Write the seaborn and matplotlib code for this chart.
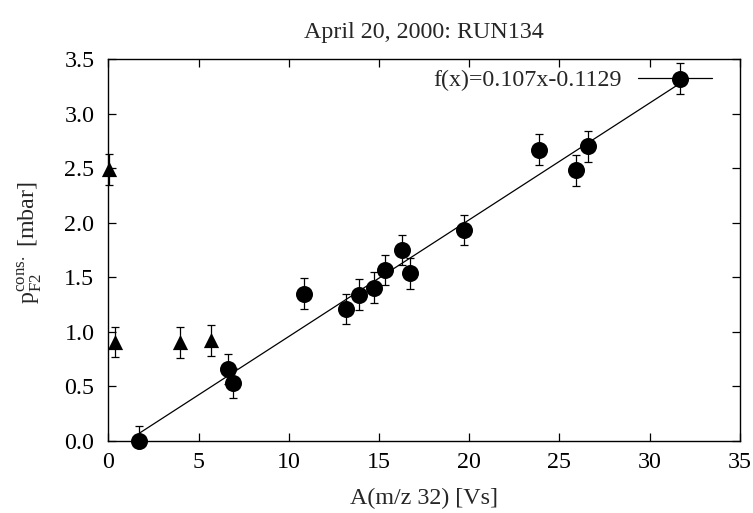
import matplotlib
matplotlib.use("Agg")
from matplotlib import pyplot as plt
import pandas as pd
import seaborn as sns

# measured points (circles) and excluded points (triangles)
circle_x = [1.72, 6.65, 6.93, 10.86, 13.17, 13.88, 14.70, 15.35, 16.27, 16.70, 19.69, 23.86, 25.90, 26.56, 31.69]
circle_y = [0.00, 0.66, 0.53, 1.35, 1.21, 1.34, 1.405, 1.565, 1.75, 1.535, 1.935, 2.67, 2.48, 2.70, 3.32]
circle_err = [0.14, 0.14, 0.14, 0.14, 0.14, 0.14, 0.14, 0.14, 0.14, 0.14, 0.14, 0.14, 0.14, 0.14, 0.14]

tri_x = [0.06, 0.37, 3.97, 5.67]
tri_y = [2.49, 0.907, 0.903, 0.923]
tri_err = [0.14, 0.14, 0.14, 0.14]

# fit f(x) = slope*x + offset over the circle range
slope = 0.107
offset = -0.1129
fit_x = [min(circle_x), max(circle_x)]

x_ticks = [0, 5, 10, 15, 20, 25, 30, 35]
y_ticks = [0.0, 0.5, 1.0, 1.5, 2.0, 2.5, 3.0, 3.5]

FS = 17.3

sns.set_style("ticks")
plt.rcParams["font.family"] = ["Liberation Serif", "DejaVu Serif"]
plt.rcParams["mathtext.fontset"] = "custom"
plt.rcParams["mathtext.rm"] = "Liberation Serif"
plt.rcParams["font.size"] = FS

circles = pd.DataFrame({"x": circle_x, "y": circle_y})
tris = pd.DataFrame({"x": tri_x, "y": tri_y})
fit = pd.DataFrame({"x": fit_x, "y": [slope * v + offset for v in fit_x]})

fig, ax = plt.subplots(figsize=(7.53, 5.13), dpi=100)
fig.subplots_adjust(left=0.1438, right=0.9827, top=0.885, bottom=0.1404)

sns.lineplot(data=fit, x="x", y="y", color="black", lw=0.9, ax=ax,
             label="f(x)=0.107x-0.1129", zorder=2)

ax.errorbar(circle_x, circle_y, yerr=circle_err, fmt="none", ecolor="black",
            elinewidth=0.9, capsize=3, capthick=0.9, zorder=3)
ax.errorbar(tri_x, tri_y, yerr=tri_err, fmt="none", ecolor="black",
            elinewidth=0.9, capsize=3, capthick=0.9, zorder=3, clip_on=False)

sns.scatterplot(data=circles, x="x", y="y", marker="o", s=150, color="black",
                edgecolor="black", linewidth=0, ax=ax, zorder=4, clip_on=False)
sns.scatterplot(data=tris, x="x", y="y", marker="^", s=120, color="black",
                edgecolor="black", linewidth=0, ax=ax, zorder=4, clip_on=False)

ax.set_xlim(0, 35)
ax.set_ylim(0, 3.5)
ax.set_xticks(x_ticks)
ax.set_yticks(y_ticks)
ax.set_xticklabels([str(t) for t in x_ticks])
ax.set_yticklabels([f"{t:.1f}" for t in y_ticks])
ax.tick_params(direction="in", length=6, width=0.9, top=True, right=True,
               labelsize=FS, colors="black")
ax.tick_params(axis="x", pad=8)
ax.tick_params(axis="y", pad=10)
for sp in ax.spines.values():
    sp.set_visible(True)
    sp.set_linewidth(1.0)
    sp.set_color("black")

ax.set_title("April 20, 2000: RUN134", fontsize=FS, pad=15)
ax.set_xlabel("A(m/z 32) [Vs]", fontsize=FS)
ax.set_ylabel(r"$\mathrm{p}_{\mathrm{F2}}^{\mathrm{cons.}}$ [mbar]", fontsize=FS)
ax.xaxis.set_label_coords(0.5, -0.122)
ax.yaxis.set_label_coords(-0.1, 0.52)

ax.legend(loc="center right", bbox_to_anchor=(0.956, 0.945), frameon=False,
          markerfirst=False, handlelength=3.1, handletextpad=0.65,
          borderpad=0, borderaxespad=0, fontsize=FS)

fig.savefig("out.png", dpi=100)
